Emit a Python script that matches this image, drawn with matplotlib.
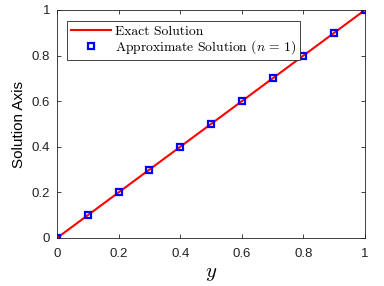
import numpy as np
import matplotlib
matplotlib.use("Agg")
import matplotlib.pyplot as plt

plt.rcParams['mathtext.fontset'] = 'cm'
plt.rcParams['font.family'] = ['Liberation Sans', 'DejaVu Sans']

y_exact = [0.0, 1.0]
u_exact = [0.0, 1.0]
y_approx = [0.0, 0.1, 0.2, 0.3, 0.4, 0.5, 0.6, 0.7, 0.8, 0.9, 1.0]
u_approx = [0.0, 0.1, 0.2, 0.3, 0.4, 0.5, 0.6, 0.7, 0.8, 0.9, 1.0]
xticks = [0, 0.2, 0.4, 0.6, 0.8, 1]
xticklabels = ['0', '0.2', '0.4', '0.6', '0.8', '1']
yticks = [0, 0.2, 0.4, 0.6, 0.8, 1]
yticklabels = ['0', '0.2', '0.4', '0.6', '0.8', '1']

fig = plt.figure(figsize=(3.84, 2.86), dpi=100)
ax = fig.add_axes([57/384, 1-238/286, (365-57)/384, (238-10)/286])

ax.plot(y_exact, u_exact, color='red', lw=1.5, label='Exact Solution')
ax.plot(y_approx, u_approx, ls='none', marker='s', ms=5, mfc='none',
        mec='blue', mew=1.6, label='Approximate Solution ($n\\,=\\,1$)')

ax.set_xlim(0, 1)
ax.set_ylim(0, 1)
ax.set_xticks(xticks)
ax.set_xticklabels(xticklabels)
ax.set_yticks(yticks)
ax.set_yticklabels(yticklabels)
ax.tick_params(direction='in', top=True, right=True, labelsize=9.5, length=3,
               width=0.6, colors='#222222', labelcolor='#222222')
ax.tick_params(axis='x', pad=7)
ax.tick_params(axis='y', pad=5)
for s in ax.spines.values():
    s.set_linewidth(0.6)
    s.set_color('#222222')

ax.set_xlabel('$y$', fontsize=15, labelpad=3)
ax.set_ylabel('Solution Axis', fontsize=11, labelpad=4)

leg = ax.legend(loc='upper left', bbox_to_anchor=(10/308, 1 - 11/228),
                prop={'family': 'cmr10', 'size': 9.8},
                fancybox=False, edgecolor='#222222', framealpha=1,
                handlelength=2.9, borderpad=0.3, labelspacing=0.05,
                handletextpad=0.3, borderaxespad=0)
leg.get_frame().set_linewidth(0.6)

fig.savefig('out.png', dpi=100)
